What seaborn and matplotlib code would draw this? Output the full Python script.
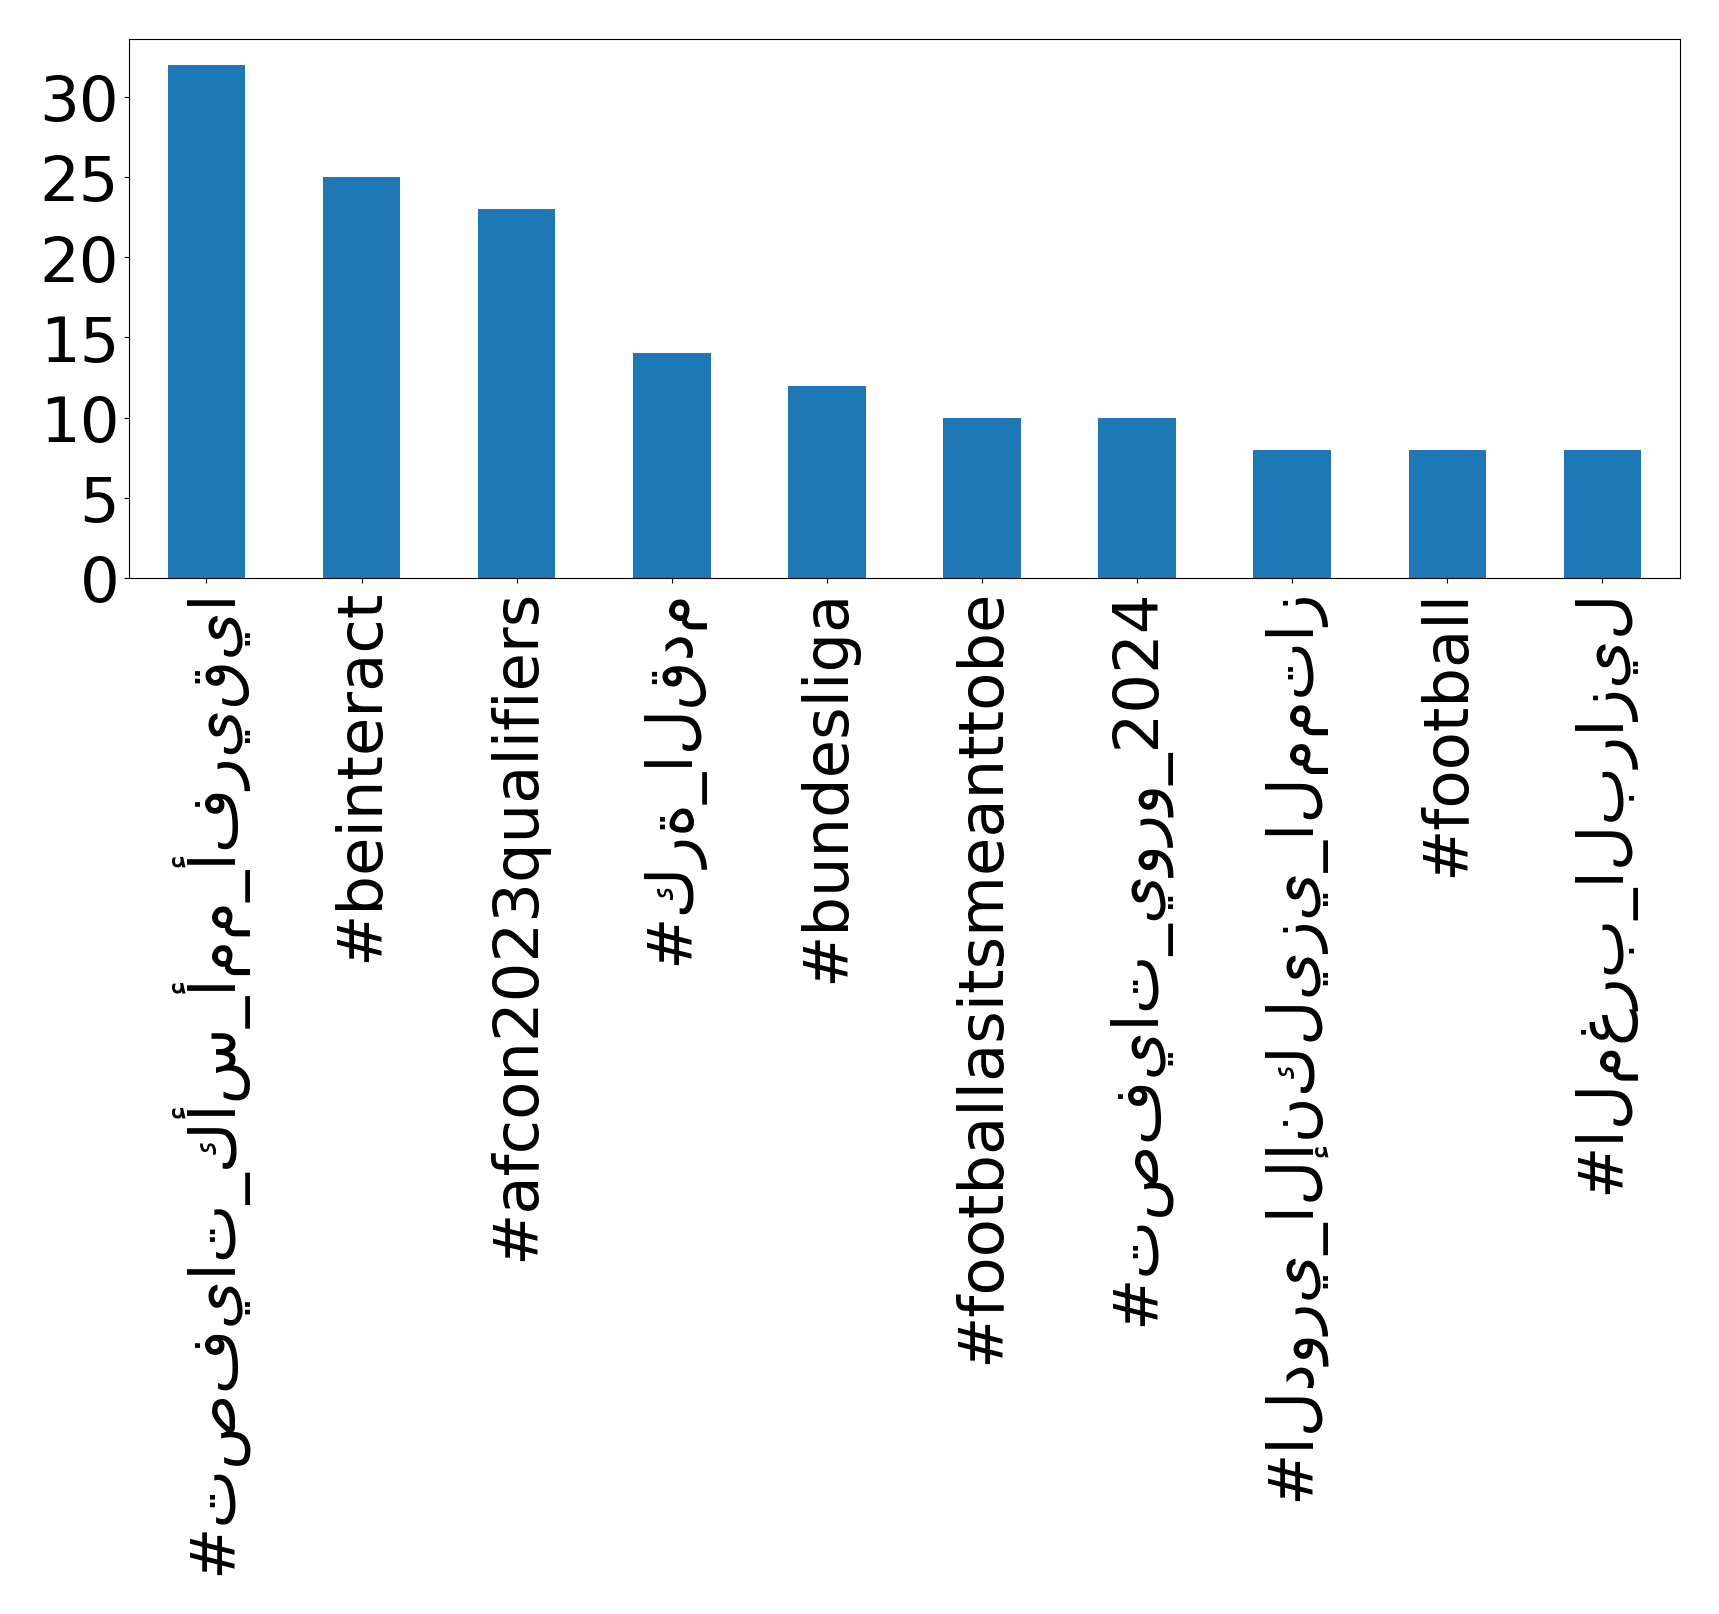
import seaborn as sns
import matplotlib.pyplot as plt
import pandas as pd
from matplotlib.ticker import MultipleLocator

hashtags = [
    "#تصفيات_كأس_أمم_أفريقيا",
    "#beinteract",
    "#afcon2023qualifiers",
    "#كرة_القدم",
    "#bundesliga",
    "#footballasitsmeanttobe",
    "#تصفيات_يورو_2024",
    "#الدوري_الإنكليزي_الممتاز",
    "#football",
    "#المغرب_البرازيل",
]
counts = [32, 25, 23, 14, 12, 10, 10, 8, 8, 8]

df = pd.DataFrame({'hashtag': hashtags, 'count': counts})

plt.rcParams['font.family'] = ['DejaVu Sans']

fig = plt.figure(figsize=(17.19, 16.15), dpi=100)
ax = fig.add_axes([0.075, 0.6415, 0.9023, 0.3337])

sns.barplot(data=df, x='hashtag', y='count', color='#1f77b4',
            saturation=1, width=0.5, ax=ax)

ax.set_xlim(-0.5, len(hashtags) - 0.5)
ax.set_ylim(0, max(counts) * 1.05)
ax.yaxis.set_major_locator(MultipleLocator(5))
ax.set_xlabel('')
ax.set_ylabel('')
ax.tick_params(axis='both', labelsize=45)
plt.setp(ax.get_xticklabels(), rotation=90)

fig.savefig('out.png', dpi=100)
